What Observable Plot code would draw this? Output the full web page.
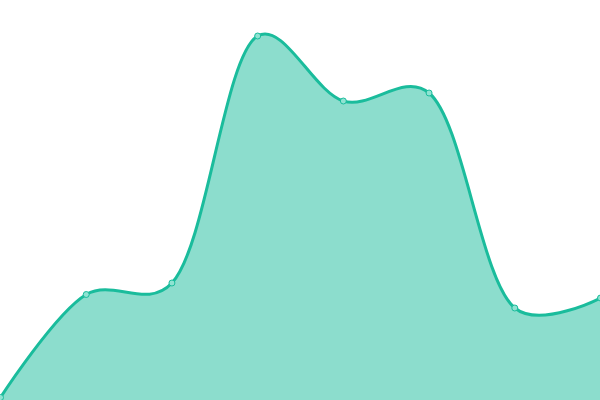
<!DOCTYPE html>
<html>
<head>
<meta charset="utf-8">
<script src="https://cdn.jsdelivr.net/npm/d3@7"></script>
<script src="https://cdn.jsdelivr.net/npm/@observablehq/plot@0.6"></script>
<style>
  html, body { margin: 0; padding: 0; background: #fff; }
  #chart svg { display: block; }
</style>
</head>
<body>
<div id="chart"></div>
<script>
const categories = [0, 1, 2, 3, 4, 5, 6, 7];
const values = [3, 106, 117.5, 364.5, 299.5, 307.5, 92.5, 102.5];

const data = categories.map((c, i) => ({x: c, y: values[i]}));
const color = "#1abc9c";
const curve = d3.curveCatmullRom.alpha(0.3);

const chart = Plot.plot({
  width: 600,
  height: 400,
  margin: 0,
  x: {domain: [0, 7], range: [0, 600], axis: null},
  y: {domain: [0, 400], range: [400, 0], axis: null},
  marks: [
    Plot.areaY(data, {x: "x", y: "y", curve, fill: color, fillOpacity: 0.5}),
    Plot.lineY(data, {x: "x", y: "y", curve, stroke: color, strokeWidth: 3}),
    Plot.dot(data, {x: "x", y: "y", r: 3, fill: "#8fe3d2", stroke: color, strokeWidth: 1})
  ]
});
document.getElementById("chart").append(chart);
</script>
</body>
</html>
